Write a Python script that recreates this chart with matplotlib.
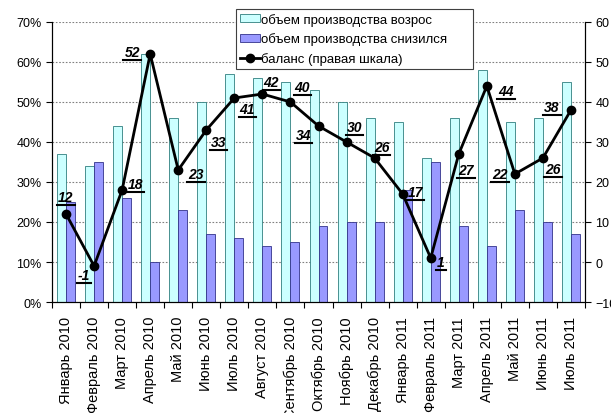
import matplotlib
matplotlib.use("Agg")
import matplotlib.pyplot as plt
import numpy as np
from matplotlib.lines import Line2D
from matplotlib.patches import Patch

plt.rcParams['font.family'] = ['Liberation Sans', 'DejaVu Sans']

months = ['Январь 2010', 'Февраль 2010', 'Март 2010', 'Апрель 2010', 'Май 2010',
          'Июнь 2010', 'Июль 2010', 'Август 2010', 'Сентябрь 2010', 'Октябрь 2010',
          'Ноябрь 2010', 'Декабрь 2010', 'Январь 2011', 'Февраль 2011', 'Март 2011',
          'Апрель 2011', 'Май 2011', 'Июнь 2011', 'Июль 2011']
rose = [37, 34, 44, 62, 46, 50, 57, 56, 55, 53, 50, 46, 45, 36, 46, 58, 45, 46, 55]
fell = [25, 35, 26, 10, 23, 17, 16, 14, 15, 19, 20, 20, 28, 35, 19, 14, 23, 20, 17]
balance = [12, -1, 18, 52, 23, 33, 41, 42, 40, 34, 30, 26, 17, 1, 27, 44, 22, 26, 38]

# label offsets in pixels (dx, dy) relative to each point
label_offsets = [(0, 17), (-10, -9), (13, 6), (-18, 2), (18, -4), (12, -12), (13, -11),
                 (9, 12), (12, 15), (-15, -9), (8, 15), (7, 11), (13, 2), (10, -4),
                 (7, -16), (19, -5), (-15, 0), (10, -11), (-19, 3)]

fig = plt.figure(figsize=(6.11, 4.14), dpi=100)
ax = fig.add_axes([52 / 611, 1 - 303 / 414, 533 / 611, 280 / 414])
ax2 = ax.twinx()

x = np.arange(len(months))
w = 0.32
ax.bar(x - w / 2, rose, w, color='#CCFFFF', edgecolor='#2F7F7F', linewidth=0.6, zorder=2)
ax.bar(x + w / 2, fell, w, color='#9999FF', edgecolor='#33338A', linewidth=0.6, zorder=2)

ax.set_xlim(-0.5, len(months) - 0.5)
ax.set_ylim(0, 70)
ax.set_yticks(range(0, 71, 10))
ax.set_yticklabels([f'{v}%' for v in range(0, 71, 10)], fontsize=9)
ax.yaxis.grid(True, linestyle=(0, (1.5, 1.5)), color='#808080', linewidth=0.8)
ax.set_axisbelow(True)
ax.set_xticks(x)
ax.set_xticklabels(months, rotation=90, fontsize=10.5)
ax.tick_params(axis='x', which='major', length=0, pad=10)
ax.set_xticks(np.arange(-0.5, len(months), 1), minor=True)
ax.tick_params(axis='x', which='minor', length=4, direction='out', width=0.8)
ax.tick_params(axis='y', length=4, width=0.8)

ax2.plot(x, balance, color='black', linewidth=2, marker='o', markersize=6, zorder=5)
ax2.set_ylim(-10, 60)
ax2.set_yticks(range(-10, 61, 10))
ax2.tick_params(axis='y', labelsize=9, length=4, width=0.8)

ax.spines['top'].set_visible(False)
ax2.spines['top'].set_visible(False)

texts = []
for xi, b, (dx, dy) in zip(x, balance, label_offsets):
    t = ax2.annotate(str(b), (xi, b), xytext=(dx, dy), textcoords='offset pixels',
                     ha='center', va='center', fontsize=10, fontweight='bold',
                     fontstyle='italic', zorder=6)
    texts.append(t)

handles = [Patch(facecolor='#CCFFFF', edgecolor='#2F7F7F', linewidth=0.6),
           Patch(facecolor='#9999FF', edgecolor='#33338A', linewidth=0.6),
           Line2D([], [], color='black', linewidth=2, marker='o', markersize=6)]
labels = ['объем производства возрос', 'объем производства снизился      ',
          'баланс (правая шкала)']
leg = ax2.legend(handles, labels, loc='upper left', bbox_to_anchor=(236 / 611, 1 - 10 / 414),
                 bbox_transform=fig.transFigure, fontsize=9.5, frameon=True, fancybox=False,
                 edgecolor='#404040', framealpha=1, handlelength=1.5, handleheight=0.55,
                 handletextpad=0.1, labelspacing=0.5, borderpad=0.3, borderaxespad=0)
leg.get_frame().set_linewidth(0.8)

# underline the labels
fig.canvas.draw()
r = fig.canvas.get_renderer()
for t in texts:
    bb = t.get_window_extent(r)
    yline = bb.y0 - 1
    fig.add_artist(Line2D([bb.x0 - 1, bb.x1 + 1], [yline, yline], transform=None,
                          color='black', linewidth=1.5, zorder=6))

fig.savefig('out.png', dpi=100)
